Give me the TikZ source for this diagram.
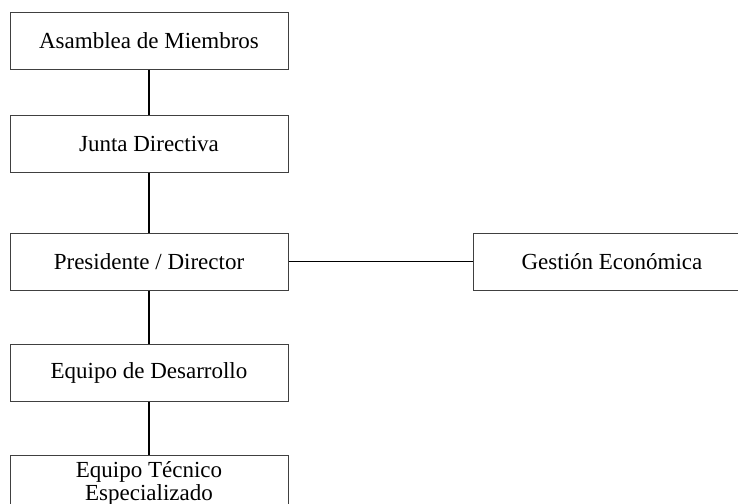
\documentclass[tikz,border=0pt]{standalone}
\usepackage{fontspec}
\setmainfont{Liberation Serif}
\usetikzlibrary{positioning}

\tikzset{
  orgbox/.style={draw=black!75, line width=0.5pt, minimum width=139pt, minimum height=28.5pt,
    align=center, inner sep=0pt, font=\fontsize{11.5pt}{11.5pt}\selectfont},
  link/.style={draw=black, line width=0.7pt}
}

\begin{document}
\begin{tikzpicture}
 \useasboundingbox (0,0) rectangle (369pt,-251.5pt);
 \node [orgbox] (asamblea) at (74.5pt,-20.25pt) {Asamblea de Miembros};
 \node [orgbox, below=22.5pt of asamblea] (junta) {Junta Directiva};
 \node [orgbox, below=30pt of junta] (presidente) {Presidente / Director};
 \node [orgbox, below=26.5pt of presidente] (desarrollo) {Equipo de Desarrollo};
 \node [orgbox, below=26.5pt of desarrollo] (tecnico) {Equipo Técnico\\Especializado};
 \node [orgbox, right=92pt of presidente] (gestion) {Gestión Económica};
 \draw [link] (asamblea) -- (junta);
 \draw [link] (junta) -- (presidente);
 \draw [link] (presidente) -- (desarrollo);
 \draw [link] (desarrollo) -- (tecnico);
 \draw [link] (presidente) -- (gestion);
\end{tikzpicture}
\end{document}
